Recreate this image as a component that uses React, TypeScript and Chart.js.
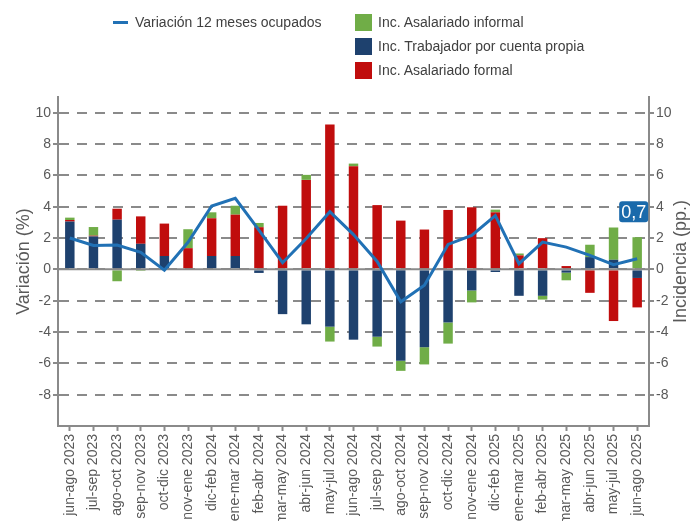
import React, { useEffect, useRef } from "react";
import { Chart, registerables } from "chart.js";

Chart.register(...registerables);

const categories = [
  "jun-ago 2023", "jul-sep 2023", "ago-oct 2023", "sep-nov 2023", "oct-dic 2023",
  "nov-ene 2023", "dic-feb 2024", "ene-mar 2024", "feb-abr 2024", "mar-may 2024",
  "abr-jun 2024", "may-jul 2024", "jun-ago 2024", "jul-sep 2024", "ago-oct 2024",
  "sep-nov 2024", "oct-dic 2024", "nov-ene 2024", "dic-feb 2025", "ene-mar 2025",
  "feb-abr 2025", "mar-may 2025", "abr-jun 2025", "may-jul 2025", "jun-ago 2025",
];

const cuentaPropia = [
  3.05, 2.1, 3.17, 1.63, 0.85, 0, 0.85, 0.85, -0.23, -2.86,
  -3.51, -3.66, -4.49, -4.3, -5.84, -4.97, -3.39, -1.35, -0.17, -1.69,
  -1.69, -0.21, 0.78, 0.61, -0.55,
];

const formal = [
  0.1, 0.05, 0.7, 1.75, 2.07, 1.35, 2.41, 2.64, 2.69, 4.06,
  5.71, 9.25, 6.58, 4.1, 3.11, 2.54, 3.79, 3.96, 3.64, 0.89,
  1.99, 0.21, -1.5, -3.3, -1.88,
];

const informal = [
  0.15, 0.55, -0.76, -0.1, 0, 1.21, 0.38, 0.57, 0.27, 0,
  0.32, -0.95, 0.17, -0.63, -0.64, -1.1, -1.35, -0.76, 0.17, 0.12,
  -0.24, -0.49, 0.79, 2.06, 2.05,
];

const variacion = [
  2.0, 1.52, 1.55, 1.08, -0.05, 1.73, 4.04, 4.53, 2.5, 0.42,
  1.97, 3.68, 2.22, 0.5, -2.07, -1.02, 1.59, 2.16, 3.43, 0.36,
  1.74, 1.42, 0.89, 0.3, 0.68,
];

const yTicks = [10, 8, 6, 4, 2, 0, -2, -4, -6, -8];
const lastLabel = "0,7";
const rightTitle = "Incidencia (pp.)";

const FONT = "'Liberation Sans', Arial, Helvetica, sans-serif";
const GRID = "#8a8a8a";
const TXT = "#595959";
const C_LINE = "#2171b5";
const C_INFORMAL = "#70ad47";
const C_PROPIA = "#1e416e";
const C_FORMAL = "#c00d0d";
const C_BOX = "#1a6aab";

const overlayPlugin = {
  id: "overlay",
  beforeDatasetDraw(chart: any, args: any) {
    if (args.meta.type !== "line") return;
    const { ctx, chartArea } = chart;
    const y0 = chart.scales.y.getPixelForValue(0);
    ctx.save();
    ctx.strokeStyle = GRID;
    ctx.lineWidth = 2;
    ctx.setLineDash([]);
    ctx.beginPath();
    ctx.moveTo(chartArea.left, y0);
    ctx.lineTo(chartArea.right, y0);
    ctx.stroke();
    ctx.restore();
  },
  afterDatasetsDraw(chart: any) {
    const idx = chart.data.datasets.findIndex((d: any) => d.type === "line");
    const meta = chart.getDatasetMeta(idx);
    const pt = meta.data[meta.data.length - 1];
    if (!pt) return;
    const { ctx } = chart;
    const cx = pt.x - 3.5;
    const cy = pt.y - 47;
    const w = 29;
    const h = 21;
    ctx.save();
    ctx.fillStyle = C_BOX;
    ctx.beginPath();
    (ctx as any).roundRect(cx - w / 2, cy - h / 2, w, h, 3);
    ctx.fill();
    ctx.fillStyle = "#ffffff";
    ctx.font = `18px ${FONT}`;
    ctx.textAlign = "center";
    ctx.textBaseline = "middle";
    ctx.fillText(lastLabel, cx, cy + 1);
    ctx.restore();
  },
  afterDraw(chart: any) {
    const { ctx, chartArea } = chart;
    const s = chart.scales.y2;
    const cx = s.right - 9.5;
    const cy = (chartArea.top + chartArea.bottom) / 2;
    ctx.save();
    ctx.translate(cx, cy);
    ctx.rotate(-Math.PI / 2);
    ctx.fillStyle = TXT;
    ctx.font = `18px ${FONT}`;
    ctx.textAlign = "center";
    ctx.textBaseline = "middle";
    ctx.fillText(rightTitle, 0, 0);
    ctx.restore();
  },
};

export default function App() {
  const ref = useRef<HTMLCanvasElement | null>(null);

  useEffect(() => {
    if (!ref.current) return;
    const tickFont = { family: FONT, size: 14 };
    const setTicks = (s: any) => {
      s.ticks = yTicks.map((v) => ({ value: v }));
    };
    const chart = new Chart(ref.current, {
      type: "bar",
      data: {
        labels: categories,
        datasets: [
          {
            type: "line",
            label: "Variación 12 meses ocupados",
            data: variacion,
            borderColor: C_LINE,
            backgroundColor: C_LINE,
            borderWidth: 3,
            pointRadius: 0,
            tension: 0,
            yAxisID: "y",
            order: 0,
          } as any,
          {
            label: "Inc. Trabajador por cuenta propia",
            data: cuentaPropia,
            backgroundColor: C_PROPIA,
            yAxisID: "y",
            stack: "s",
            order: 1,
          },
          {
            label: "Inc. Asalariado formal",
            data: formal,
            backgroundColor: C_FORMAL,
            yAxisID: "y",
            stack: "s",
            order: 1,
          },
          {
            label: "Inc. Asalariado informal",
            data: informal,
            backgroundColor: C_INFORMAL,
            yAxisID: "y",
            stack: "s",
            order: 1,
          },
        ],
      },
      options: {
        animation: false,
        responsive: false,
        maintainAspectRatio: false,
        datasets: { bar: { categoryPercentage: 1, barPercentage: 0.4 } } as any,
        layout: { padding: { top: 97, left: 0, right: 0, bottom: 0 } },
        plugins: { legend: { display: false }, tooltip: { enabled: false } },
        scales: {
          x: {
            type: "category",
            offset: true,
            grid: {
              display: true,
              drawOnChartArea: false,
              drawTicks: true,
              tickLength: 5,
              tickWidth: 2,
              tickColor: GRID,
              color: GRID,
              offset: false,
            },
            border: { display: true, color: GRID, width: 2 },
            ticks: {
              minRotation: 90,
              maxRotation: 90,
              autoSkip: false,
              padding: 3,
              color: TXT,
              font: tickFont,
            },
            afterFit: (s: any) => {
              s.height = 95;
            },
          },
          y: {
            position: "left",
            stacked: true,
            min: -10,
            max: 11,
            afterBuildTicks: setTicks,
            grid: {
              color: GRID,
              lineWidth: 2,
              tickLength: 5,
              tickWidth: 2,
              tickColor: GRID,
              tickBorderDash: [],
            },
            border: { display: true, color: GRID, width: 2, dash: [10, 8] },
            ticks: { color: TXT, font: tickFont, padding: 2 },
            title: {
              display: true,
              text: "Variación (%)",
              color: TXT,
              font: { family: FONT, size: 18 },
              padding: { top: 13, bottom: 0 },
            },
            afterFit: (s: any) => {
              s.width = 58;
            },
          },
          y2: {
            position: "right",
            min: -10,
            max: 11,
            afterBuildTicks: setTicks,
            grid: {
              drawOnChartArea: false,
              color: GRID,
              lineWidth: 2,
              tickLength: 5,
              tickWidth: 2,
              tickColor: GRID,
            },
            border: { display: true, color: GRID, width: 2 },
            ticks: { color: TXT, font: tickFont, padding: 2 },
            title: { display: false },
            afterFit: (s: any) => {
              s.width = 42;
            },
          },
        },
      } as any,
      plugins: [overlayPlugin],
    });
    return () => chart.destroy();
  }, []);

  const legText: React.CSSProperties = {
    position: "absolute",
    fontFamily: FONT,
    fontSize: 14,
    color: "#404040",
    lineHeight: "17px",
    whiteSpace: "nowrap",
  };
  const sq = (top: number, color: string): React.CSSProperties => ({
    position: "absolute",
    left: 355,
    top,
    width: 17,
    height: 17,
    background: color,
  });

  return (
    <div style={{ position: "absolute", left: 0, top: 0, width: 691, height: 521, background: "#fff" }}>
      <canvas ref={ref} width={691} height={521} style={{ position: "absolute", left: 0, top: 0 }} />
      <div style={{ position: "absolute", left: 113, top: 21, width: 15, height: 3, background: C_LINE }} />
      <div style={{ ...legText, left: 135, top: 14 }}>Variación 12 meses ocupados</div>
      <div style={sq(14, C_INFORMAL)} />
      <div style={{ ...legText, left: 378, top: 14 }}>Inc. Asalariado informal</div>
      <div style={sq(38, C_PROPIA)} />
      <div style={{ ...legText, left: 378, top: 38 }}>Inc. Trabajador por cuenta propia</div>
      <div style={sq(62, C_FORMAL)} />
      <div style={{ ...legText, left: 378, top: 62 }}>Inc. Asalariado formal</div>
    </div>
  );
}
